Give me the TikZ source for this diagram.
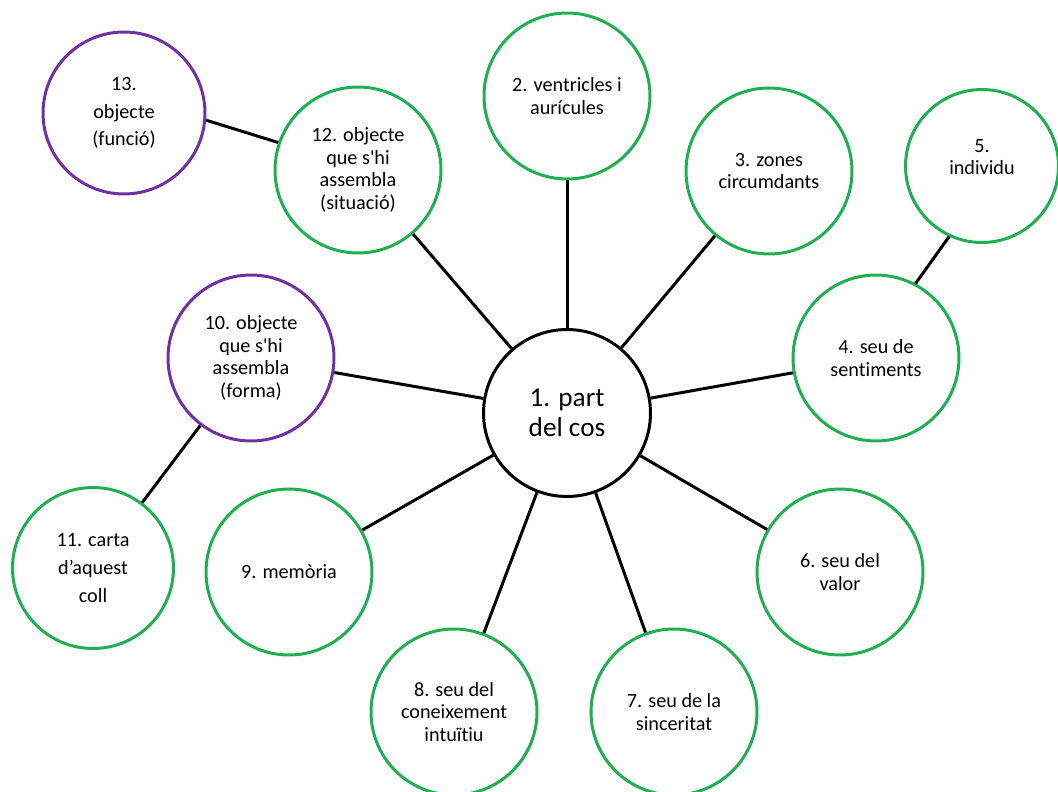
\documentclass[tikz,border=0pt]{standalone}
\usepackage{fontspec}
\setmainfont{Carlito}[Ligatures={TeXOff,NoCommon}]
\definecolor{leafgreen}{RGB}{30,175,80}
\definecolor{altpurple}{RGB}{112,48,160}

\begin{document}
\begin{tikzpicture}[x=0.02cm, y=-0.02cm, line width=1.7pt,
  main/.style = {draw, circle, minimum size=3.34cm, inner sep=0pt, align=center, font=\fontsize{15.5}{17}\selectfont},
  leaf/.style = {draw=leafgreen, circle, minimum size=3.32cm, inner sep=0pt, align=center, font=\fontsize{11.5}{12.8}\selectfont},
  alt/.style = {leaf, draw=altpurple}]
\useasboundingbox (0,0) rectangle (1058,791);
\node[main] (1) at (567,413) {1. part\\del cos};
\node[leaf] (2) at (567,96) {2. ventricles i\\aurícules};
\node[leaf] (3) at (769,171) {3. zones\\circumdants};
\node[leaf] (4) at (876,358) {4. seu de\\sentiments};
\node[leaf, minimum size=3.06cm] (5) at (982,166) {5.\\individu\\[-2.6pt]};
\node[leaf] (6) at (840,572) {6. seu del\\valor};
\node[leaf] (7) at (674,712) {7. seu de la\\sinceritat};
\node[leaf] (8) at (454,712) {8. seu del\\coneixement\\intuïtiu};
\node[leaf] (9) at (289,572) {9. memòria};
\node[alt] (10) at (251,358) {10. objecte\\que s'hi\\assembla\\(forma)};
\node[leaf, minimum size=3.22cm] (11) at (93,568) {11. carta\\[3pt]d’aquest\\[3pt]coll};
\node[leaf] (12) at (358,170) {12. objecte\\que s'hi\\assembla\\(situació)};
\node[alt, minimum size=3.24cm] (13) at (124,113) {13.\\[3pt]objecte\\[3pt](funció)};
% spokes from the centre
\draw (1) -- (2);
\draw (1) -- (3);
\draw (1) -- (4);
\draw (1) -- (6);
\draw (1) -- (7);
\draw (1) -- (8);
\draw (1) -- (9);
\draw (1) -- (10);
\draw (1) -- (12);
% outer links
\draw (5.245) -- (4.62);
\draw (10) -- (11);
\draw (13.355) -- (12.161);
\end{tikzpicture}
\end{document}
